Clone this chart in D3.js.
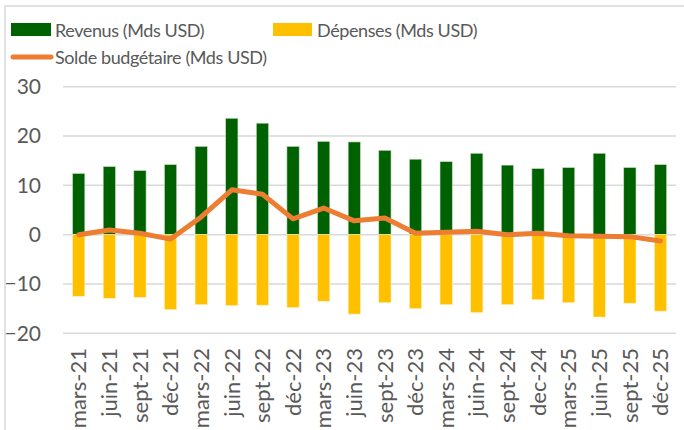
<!DOCTYPE html>
<html>
<head>
<meta charset="utf-8">
<script src="https://cdn.jsdelivr.net/npm/d3@7"></script>
<style>
  body { margin: 0; background: #fff; }
  text { font-family: Lato, "Open Sans", sans-serif; fill: #595959; }
</style>
</head>
<body>
<script>
const categories = ["mars-21","juin-21","sept-21","déc-21","mars-22","juin-22","sept-22","déc-22",
  "mars-23","juin-23","sept-23","déc-23","mars-24","juin-24","sept-24","dec-24",
  "mars-25","juin-25","sept-25","déc-25"];
const revenus = [12.4,13.8,13.0,14.2,17.9,23.6,22.6,17.9,18.9,18.8,17.1,15.3,14.8,16.5,14.1,13.4,13.6,16.5,13.6,14.2];
const depenses = [-12.5,-12.9,-12.7,-15.2,-14.2,-14.4,-14.3,-14.8,-13.5,-16.1,-13.8,-15.0,-14.2,-15.8,-14.2,-13.2,-13.8,-16.7,-13.9,-15.5];
const solde = [0.0,0.95,0.3,-0.9,3.6,9.1,8.2,3.2,5.4,2.8,3.4,0.3,0.5,0.7,0.0,0.3,-0.2,-0.3,-0.4,-1.3];
const yTicks = [-20,-10,0,10,20,30];
const legendLabels = ["Revenus (Mds USD)","Dépenses (Mds USD)","Solde budgétaire (Mds USD)"];

const width = 684, height = 430;
const svg = d3.select("body").append("svg")
  .attr("width", width).attr("height", height);

// chart frame
svg.append("path")
  .attr("d", `M5,${height}V6H${width}`)
  .attr("fill", "none").attr("stroke", "#d9d9d9").attr("stroke-width", 1.5);

const x = d3.scaleBand().domain(categories).range([63.4, 675.8]).paddingInner(0.6).paddingOuter(0.3);
const y = d3.scaleLinear().domain([-20, 30]).range([333.3, 86.7]);

// gridlines
svg.append("g").selectAll("line").data(yTicks).enter().append("line")
  .attr("x1", 63).attr("x2", 676)
  .attr("y1", d => y(d)).attr("y2", d => y(d))
  .attr("stroke", "#d9d9d9").attr("stroke-width", 1.5);

// y axis labels
const yAxis = d3.axisLeft(y).tickValues(yTicks).tickSize(0).tickPadding(0);
svg.append("g").attr("transform", "translate(41,0)").call(yAxis)
  .call(g => g.select(".domain").remove())
  .selectAll("text").attr("font-size", 21).style("font-family", "Lato, sans-serif").attr("fill", "#595959");

// bars
svg.append("g").selectAll("rect").data(revenus).enter().append("rect")
  .attr("x", (d, i) => x(categories[i])).attr("width", x.bandwidth())
  .attr("y", d => y(d)).attr("height", d => y(0) - y(d))
  .attr("fill", "#006100").attr("stroke", "#c8dcc8").attr("stroke-width", 0.6);

svg.append("g").selectAll("rect").data(depenses).enter().append("rect")
  .attr("x", (d, i) => x(categories[i])).attr("width", x.bandwidth())
  .attr("y", y(0)).attr("height", d => y(d) - y(0))
  .attr("fill", "#ffc000").attr("stroke", "#fff0c0").attr("stroke-width", 0.6);

// line
const line = d3.line()
  .x((d, i) => x(categories[i]) + x.bandwidth() / 2)
  .y(d => y(d));
svg.append("path").datum(solde)
  .attr("d", line)
  .attr("fill", "none").attr("stroke", "#ed7d31").attr("stroke-width", 5)
  .attr("stroke-linejoin", "round").attr("stroke-linecap", "round");

// x axis labels
const xAxis = d3.axisBottom(x).tickSize(0).tickPadding(0);
svg.append("g").attr("transform", "translate(0,348)").call(xAxis)
  .call(g => g.select(".domain").remove())
  .selectAll("text")
  .attr("font-size", 22).style("font-family", "Lato, sans-serif").attr("fill", "#595959")
  .attr("transform", "rotate(-90)")
  .attr("text-anchor", "end")
  .attr("x", 0).attr("y", 0).attr("dy", "0.35em");

// legend
const lg = svg.append("g").attr("font-size", 18).attr("letter-spacing", -0.4);
lg.append("rect").attr("x", 11).attr("y", 23).attr("width", 40).attr("height", 13).attr("fill", "#006100");
lg.append("text").attr("x", 55).attr("y", 36.5).text(legendLabels[0]);
lg.append("rect").attr("x", 273).attr("y", 23).attr("width", 39).attr("height", 13).attr("fill", "#ffc000");
lg.append("text").attr("x", 317).attr("y", 36.5).text(legendLabels[1]);
lg.append("line").attr("x1", 13).attr("x2", 51).attr("y1", 57).attr("y2", 57)
  .attr("stroke", "#ed7d31").attr("stroke-width", 5).attr("stroke-linecap", "round");
lg.append("text").attr("x", 55).attr("y", 64).text(legendLabels[2]);
</script>
</body>
</html>
